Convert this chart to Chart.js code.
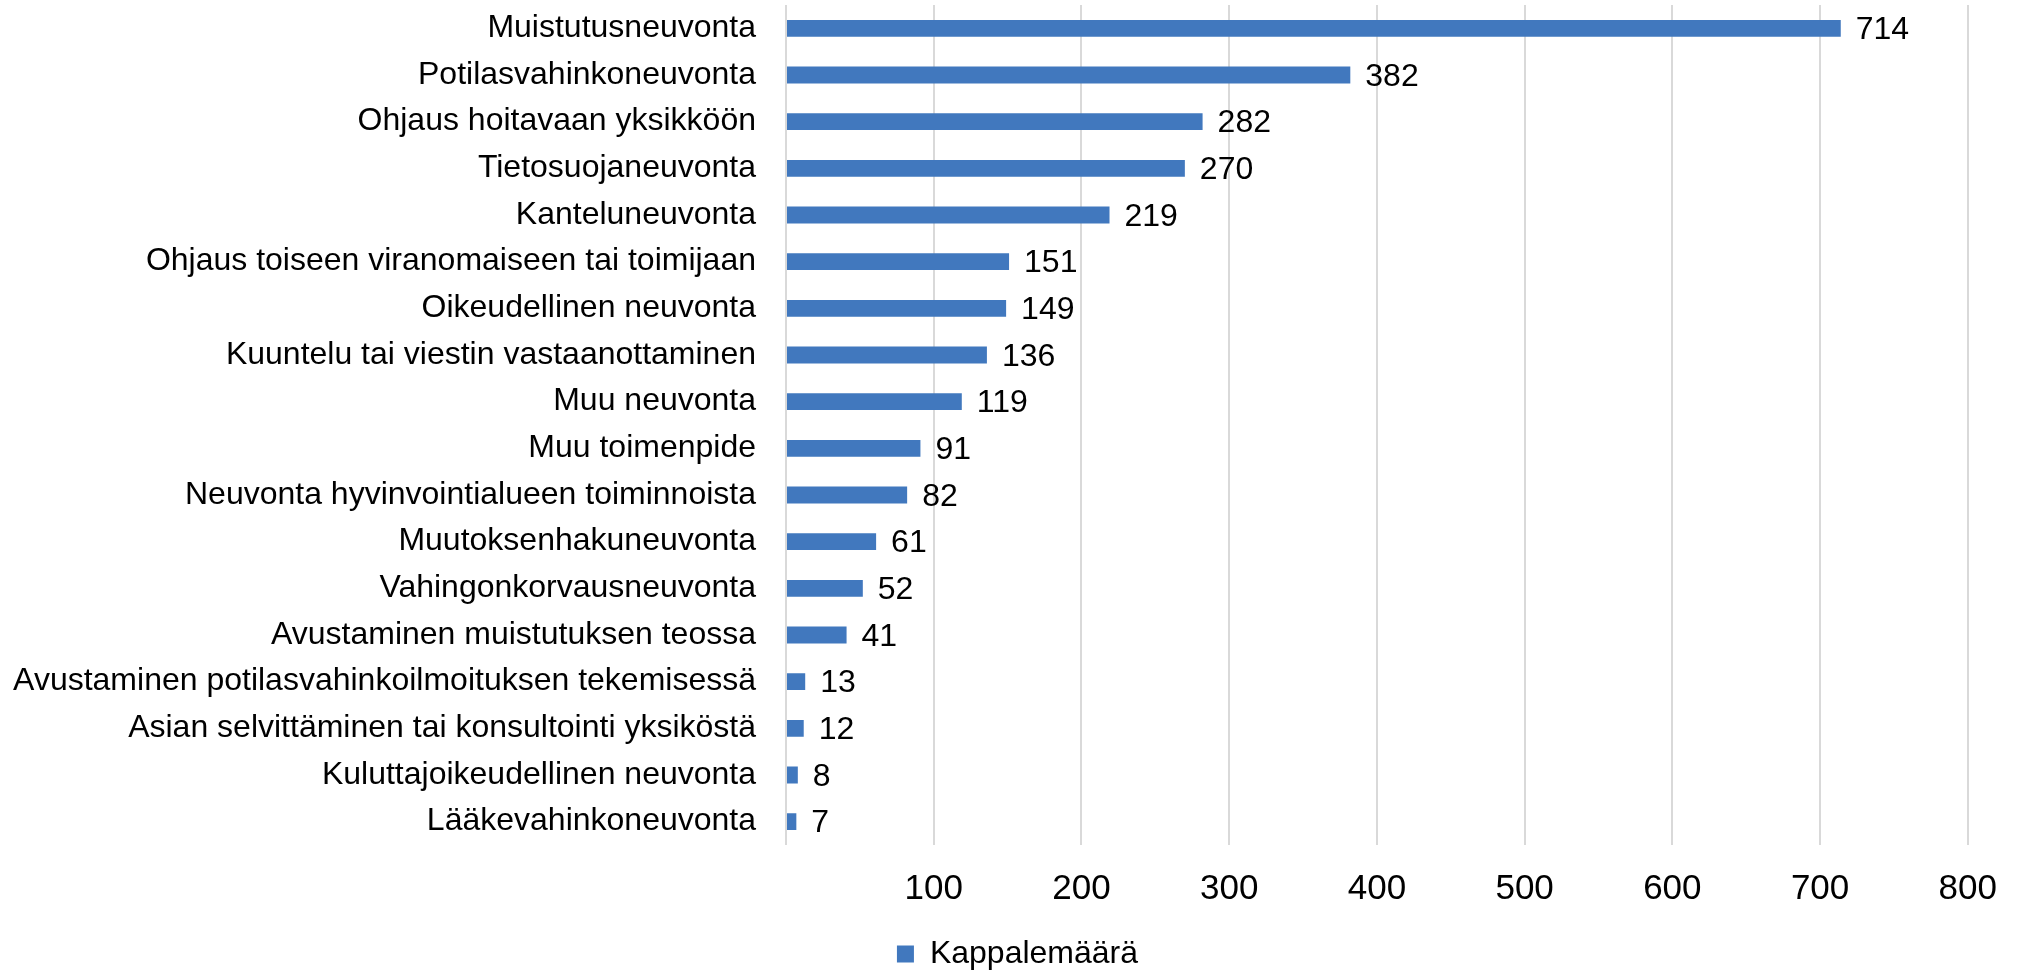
<!DOCTYPE html>
<html>
<head>
<meta charset="utf-8">
<script src="https://cdn.jsdelivr.net/npm/chart.js@4.4.1/dist/chart.umd.min.js"></script>
<style>
  html, body { margin:0; padding:0; background:#fff; }
  #wrap { width:2020px; height:971px; }
</style>
</head>
<body>
<div id="wrap"><canvas id="c" width="2020" height="971"></canvas></div>
<script>
// categories top → bottom, as in the reference
const categories = [
  "Muistutusneuvonta",
  "Potilasvahinkoneuvonta",
  "Ohjaus hoitavaan yksikköön",
  "Tietosuojaneuvonta",
  "Kanteluneuvonta",
  "Ohjaus toiseen viranomaiseen tai toimijaan",
  "Oikeudellinen neuvonta",
  "Kuuntelu tai viestin vastaanottaminen",
  "Muu neuvonta",
  "Muu toimenpide",
  "Neuvonta hyvinvointialueen toiminnoista",
  "Muutoksenhakuneuvonta",
  "Vahingonkorvausneuvonta",
  "Avustaminen muistutuksen teossa",
  "Avustaminen potilasvahinkoilmoituksen tekemisessä",
  "Asian selvittäminen tai konsultointi yksiköstä",
  "Kuluttajoikeudellinen neuvonta",
  "Lääkevahinkoneuvonta",
];
const counts = [714, 382, 282, 270, 219, 151, 149, 136, 119, 91, 82, 61, 52, 41, 13, 12, 8, 7];
const seriesName = "Kappalemäärä";
const xTicks = [100, 200, 300, 400, 500, 600, 700, 800];

const FONT_FAMILY = "Liberation Sans, Arial, sans-serif";
const BAR = "#4178be";
const GRID = "#d9d9d9";

// value labels at the end of each bar
const valueLabels = {
  id: "valueLabels",
  afterDatasetsDraw(chart) {
    const ctx = chart.ctx;
    const meta = chart.getDatasetMeta(0);
    ctx.save();
    ctx.font = "32px " + FONT_FAMILY;
    ctx.fillStyle = "#000";
    ctx.textAlign = "left";
    ctx.textBaseline = "middle";
    meta.data.forEach((bar, i) => {
      ctx.fillText(String(counts[i]), bar.x + 15, bar.y + 2);
    });
    ctx.restore();
  }
};

// nudge the legend a little right and down, like the original
const legendNudge = {
  id: "legendNudge",
  afterLayout(chart) {
    const lg = chart.legend;
    if (!lg) return;
    lg.left += 32; lg.right += 32;
    lg.top += 9; lg.bottom += 9;
  }
};

new Chart(document.getElementById("c").getContext("2d"), {
  type: "bar",
  data: {
    labels: categories,
    datasets: [{
      label: seriesName,
      data: counts,
      backgroundColor: BAR,
      borderWidth: 0,
      barPercentage: 0.36,
      categoryPercentage: 1,
    }],
  },
  options: {
    indexAxis: "y",
    responsive: false,
    animation: false,
    layout: { padding: { top: 5, right: 49, left: 0, bottom: 0 } },
    plugins: {
      legend: {
        position: "bottom",
        labels: {
          font: { family: FONT_FAMILY, size: 32 },
          color: "#000",
          boxWidth: 17, boxHeight: 17, padding: 4,
        },
      },
      tooltip: { enabled: false },
    },
    scales: {
      x: {
        min: 0, max: 800,
        afterBuildTicks: s => { s.ticks = [0, ...xTicks].map(v => ({ value: v })); },
        grid: { color: GRID, lineWidth: 2, drawTicks: false },
        border: { display: false },
        ticks: {
          font: { family: FONT_FAMILY, size: 35 },
          color: "#000",
          padding: 23,
          callback: v => v === 0 ? "" : v,
          maxRotation: 0,
        },
        afterFit: s => { s.height = 80; },
      },
      y: {
        grid: { display: false },
        border: { display: false },
        ticks: {
          font: { family: FONT_FAMILY, size: 32 },
          color: "#000",
          padding: 22,
          autoSkip: false,
        },
        afterFit: s => { s.width = 786; s.paddingTop = 0; s.paddingBottom = 0; },
      },
    },
  },
  plugins: [valueLabels, legendNudge],
});
</script>
</body>
</html>
